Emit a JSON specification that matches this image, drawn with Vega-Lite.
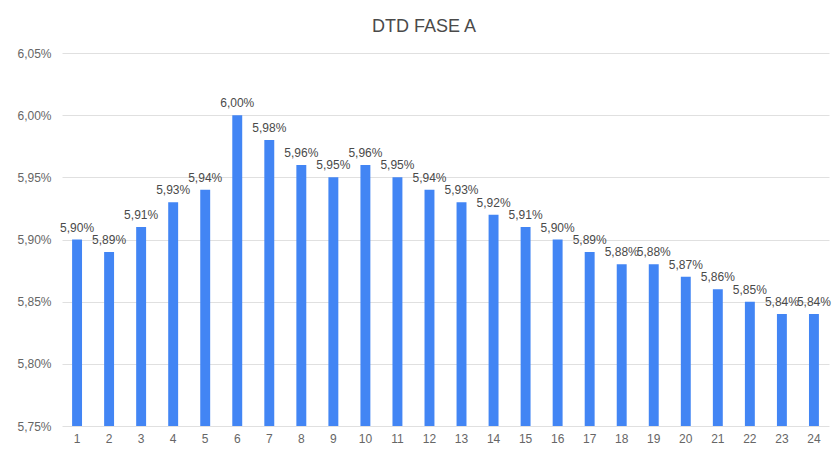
{
  "$schema": "https://vega.github.io/schema/vega-lite/v6.json",
  "width": 767,
  "height": 373,
  "autosize": {"type": "none"},
  "padding": {"left": 62, "top": 53, "right": 5, "bottom": 26},
  "background": "white",
  "title": {"text": "DTD FASE A", "fontSize": 18, "font": "Liberation Sans", "fontWeight": "normal", "color": "#4a4a4a", "anchor": "middle", "frame": "bounds", "baseline": "alphabetic", "offset": -3},
  "config": {
    "locale": {"number": {"decimal": ",", "thousands": ".", "grouping": [3], "currency": ["", "€"]}},
    "view": {"stroke": null},
    "font": "Liberation Sans"
  },
  "data": {"values": [
    {"dia": 1, "valor": 0.0590},
    {"dia": 2, "valor": 0.0589},
    {"dia": 3, "valor": 0.0591},
    {"dia": 4, "valor": 0.0593},
    {"dia": 5, "valor": 0.0594},
    {"dia": 6, "valor": 0.0600},
    {"dia": 7, "valor": 0.0598},
    {"dia": 8, "valor": 0.0596},
    {"dia": 9, "valor": 0.0595},
    {"dia": 10, "valor": 0.0596},
    {"dia": 11, "valor": 0.0595},
    {"dia": 12, "valor": 0.0594},
    {"dia": 13, "valor": 0.0593},
    {"dia": 14, "valor": 0.0592},
    {"dia": 15, "valor": 0.0591},
    {"dia": 16, "valor": 0.0590},
    {"dia": 17, "valor": 0.0589},
    {"dia": 18, "valor": 0.0588},
    {"dia": 19, "valor": 0.0588},
    {"dia": 20, "valor": 0.0587},
    {"dia": 21, "valor": 0.0586},
    {"dia": 22, "valor": 0.0585},
    {"dia": 23, "valor": 0.0584},
    {"dia": 24, "valor": 0.0584}
  ]},
  "encoding": {
    "x": {
      "field": "dia", "type": "ordinal", "title": null,
      "scale": {"paddingInner": 0.69, "paddingOuter": 0.315},
      "axis": {"labelAngle": 0, "domain": false, "ticks": false, "labelPadding": 7, "labelFontSize": 12, "labelColor": "#666666", "labelFont": "Liberation Sans"}
    },
    "y": {
      "field": "valor", "type": "quantitative", "title": null,
      "scale": {"domain": [0.0575, 0.0605], "zero": false, "nice": false},
      "axis": {"values": [0.0575, 0.058, 0.0585, 0.059, 0.0595, 0.06, 0.0605], "format": ".2%", "domain": false, "ticks": false, "labelPadding": 11, "labelFontSize": 12, "labelColor": "#666666", "gridColor": "#e0e0e0", "labelFont": "Liberation Sans"}
    }
  },
  "layer": [
    {"mark": {"type": "bar", "color": "#4285F4"},
     "encoding": {"y2": {"datum": 0.0575}}},
    {"mark": {"type": "text", "baseline": "alphabetic", "dy": -8, "fontSize": 12, "color": "#4a4a4a", "font": "Liberation Sans"},
     "encoding": {"text": {"field": "valor", "type": "quantitative", "format": ".2%"}}}
  ]
}
